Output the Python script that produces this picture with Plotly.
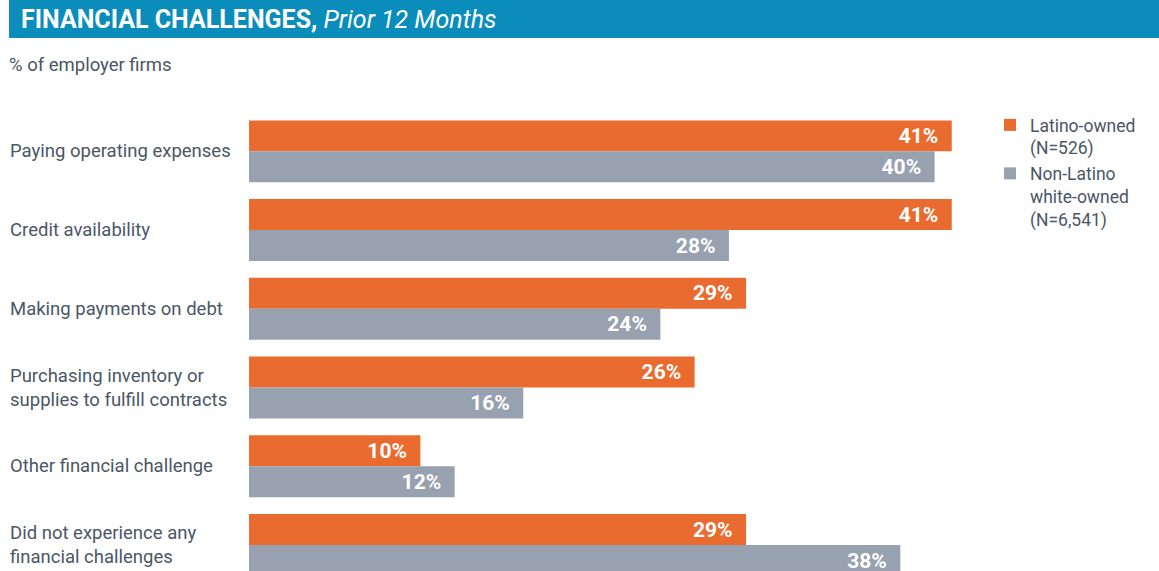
import plotly.graph_objects as go

# data
categories = [
    "Paying operating expenses",
    "Credit availability",
    "Making payments on debt",
    "Purchasing inventory or<br>supplies to fulfill contracts",
    "Other financial challenge",
    "Did not experience any<br>financial challenges",
]
latino = [41, 41, 29, 26, 10, 29]
non_latino = [40, 28, 24, 16, 12, 38]
series_names = ["Latino-owned<br>(N=526)", "Non-Latino<br>white-owned<br>(N=6,541)"]

W, H = 1159, 571
ML, MR, MT, MB = 249, 0, 112, 0
PW, PH = W - ML - MR, H - MT - MB

ORANGE = "#E96B2F"
GREY = "#98A1AF"
SLATE = "#4A5666"
BLUE = "#0A8DBB"
FONT = "Roboto, Arial, sans-serif"


def px_x(x):
    return (x - ML) / PW


def px_y(y):
    return 1 - (y - MT) / PH


def labels(vals):
    return [f"{v}%\u00a0\u00a0" for v in vals]


fig = go.Figure()
fig.add_trace(go.Bar(
    y=categories, x=latino, orientation="h", name=series_names[0],
    marker=dict(color=ORANGE, line=dict(width=0)),
    text=labels(latino), textposition="inside", insidetextanchor="end",
    textfont=dict(family=FONT, size=21, color="white", weight="bold"),
    hoverinfo="skip",
))
fig.add_trace(go.Bar(
    y=categories, x=non_latino, orientation="h", name=series_names[1],
    marker=dict(color=GREY, line=dict(width=0)),
    text=labels(non_latino), textposition="inside", insidetextanchor="end",
    textfont=dict(family=FONT, size=21, color="white", weight="bold"),
    hoverinfo="skip",
))

# category labels, left aligned
for c in categories:
    fig.add_annotation(
        x=px_x(8), xref="paper", y=c, yref="y", text=c, showarrow=False,
        xanchor="left", align="left", font=dict(family=FONT, size=18.5, color=SLATE),
    )

# header bar
fig.add_shape(
    type="rect", xref="paper", yref="paper",
    x0=px_x(9), x1=px_x(W), y0=px_y(38), y1=px_y(0),
    fillcolor=BLUE, line=dict(width=0), layer="below",
)
fig.add_annotation(
    x=px_x(19), xref="paper", y=px_y(19), yref="paper", showarrow=False,
    xanchor="left", yanchor="middle",
    text="<b>FINANCIAL CHALLENGES,</b> <i>Prior 12 Months</i>",
    font=dict(family=FONT, size=25, color="white"),
)
fig.add_annotation(
    x=px_x(7), xref="paper", y=px_y(65), yref="paper", showarrow=False,
    xanchor="left", yanchor="middle", text="% of employer firms",
    font=dict(family=FONT, size=18.5, color=SLATE),
)

fig.update_layout(
    width=W, height=H,
    margin=dict(l=ML, r=MR, t=MT, b=MB, pad=0),
    paper_bgcolor="white", plot_bgcolor="white",
    barmode="group", bargap=0.213, bargroupgap=0,
    font=dict(family=FONT, color=SLATE),
    xaxis=dict(range=[0, PW / 17.14], visible=False, fixedrange=True),
    yaxis=dict(range=[5.33, -0.5], showticklabels=False, showgrid=False,
               zeroline=False, showline=False, ticks="", fixedrange=True),
    legend=dict(
        x=px_x(990), y=px_y(107), xanchor="left", yanchor="top",
        traceorder="normal", valign="top", bgcolor="rgba(0,0,0,0)",
        font=dict(family=FONT, size=17.5, color=SLATE), tracegroupgap=0,
        itemwidth=30,
    ),
    showlegend=True,
)

fig.write_html("out.html", config={"displayModeBar": False},
               post_script="document.body.style.margin='0';")
